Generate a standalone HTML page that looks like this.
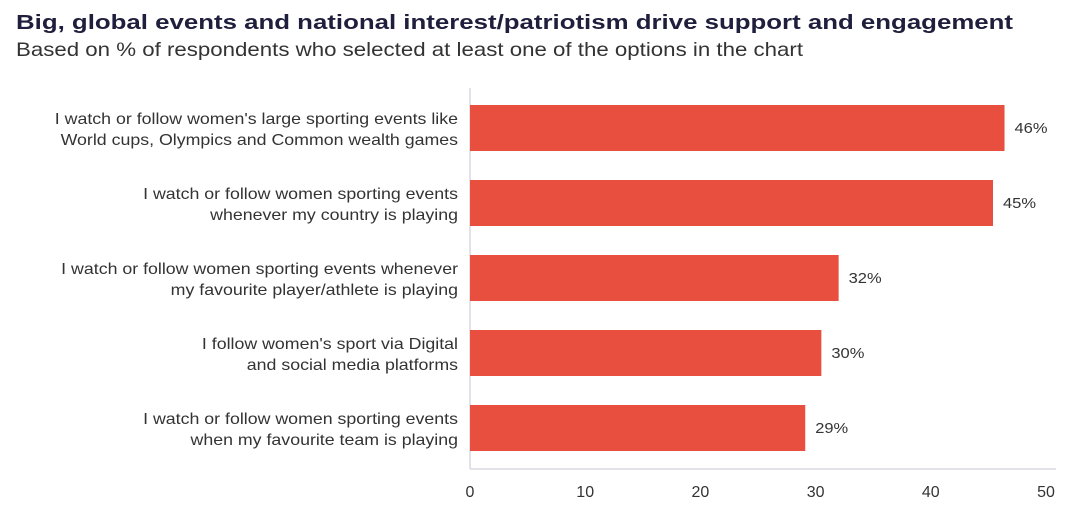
<!DOCTYPE html>
<html><head><meta charset="utf-8"><style>
body{margin:0;width:1080px;height:513px;background:#fff;font-family:"Liberation Sans",sans-serif;overflow:hidden}
</style></head><body>
<svg width="1080" height="513">
<text x="16" y="29" font-size="20.5" font-weight="bold" fill="#1f1f3d" textLength="997" lengthAdjust="spacingAndGlyphs">Big, global events and national interest/patriotism drive support and engagement</text>
<text x="16" y="56" font-size="19.5" fill="#333" textLength="787" lengthAdjust="spacingAndGlyphs">Based on % of respondents who selected at least one of the options in the chart</text>
<g id="plot"></g>
</svg>
<script>
const categories=[["I watch or follow women's large sporting events like","World cups, Olympics and Common wealth games"],["I watch or follow women sporting events","whenever my country is playing"],["I watch or follow women sporting events whenever","my favourite player/athlete is playing"],["I follow women's sport via Digital","and social media platforms"],["I watch or follow women sporting events","when my favourite team is playing"]];
const values=[46.4,45.4,32,30.5,29.1];
const valueLabels=["46%","45%","32%","30%","29%"];
const ticks=[0,10,20,30,40,50];
const NS="http://www.w3.org/2000/svg";
const g=document.getElementById('plot');
const x=v=>470+v*11.52;
const y=i=>128+i*75;
function mk(t,a,txt){const e=document.createElementNS(NS,t);for(const k in a)e.setAttribute(k,a[k]);if(txt!=null)e.textContent=txt;g.appendChild(e);return e;}
function widen(e,f){const w=e.getComputedTextLength();e.setAttribute('textLength',(w*f).toFixed(1));e.setAttribute('lengthAdjust','spacingAndGlyphs');}
let e;
e=mk('line',{x1:470,y1:88,x2:470,y2:469,stroke:'#d8d8e0','stroke-width':1.5});


e=mk('line',{x1:470,y1:469,x2:1056,y2:469,stroke:'#d8d8e0','stroke-width':1.5});


ticks.forEach(t=>{
 e=mk('text',{x:x(t),y:497,'font-size':16,fill:'#333','text-anchor':'middle'},String(t));
 
 
});
values.forEach((v,i)=>{
 e=mk('rect',{x:470,y:y(i)-23,width:x(v)-470,height:46,fill:'#e84f3f'});
 
 
 e=mk('text',{x:x(v)+10,y:y(i)+5,'font-size':15,fill:'#333'},valueLabels[i]);
 
 
 widen(e,1.1);
 categories[i].forEach((ln,j)=>{
  e=mk('text',{x:458,y:y(i)-4+j*21,'font-size':16,fill:'#333','text-anchor':'end'},ln);
  
  
  widen(e,1.11);
 });
});
</script>
</body></html>
